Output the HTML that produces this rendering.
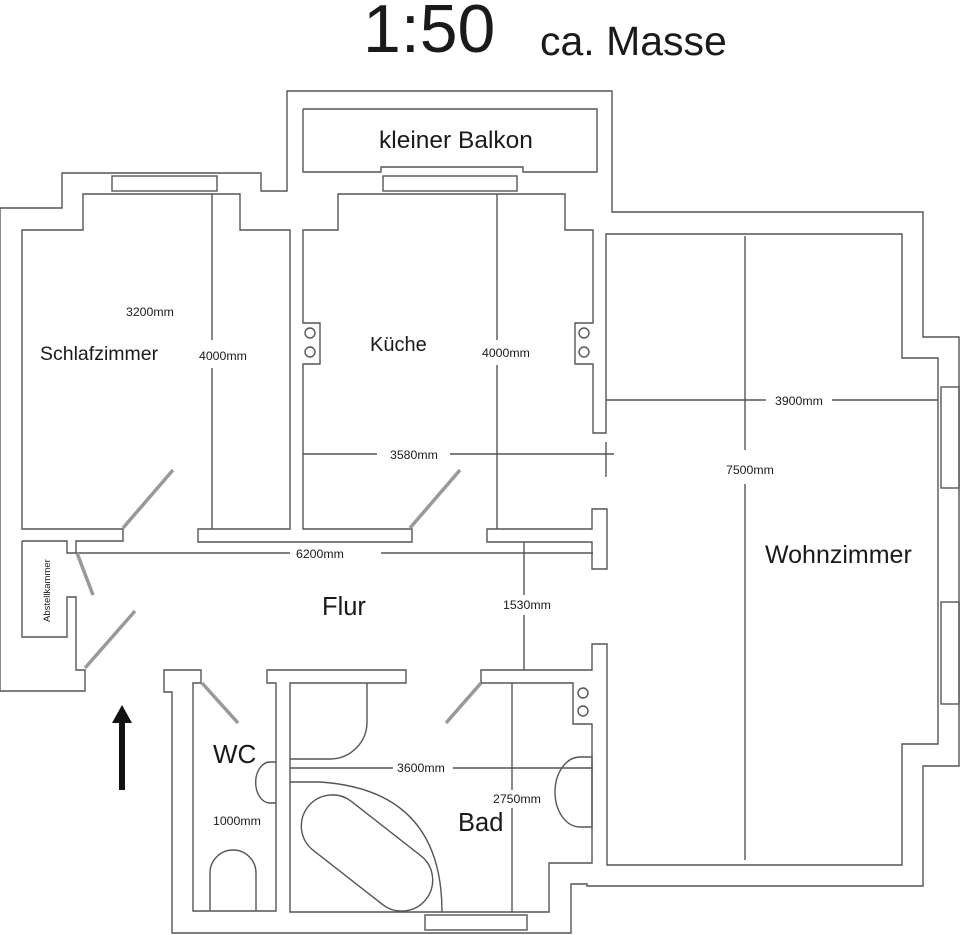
<!DOCTYPE html>
<html><head><meta charset="utf-8"><style>
html,body{margin:0;padding:0;background:#fff;}
svg{display:block;}
text{font-family:"Liberation Sans",sans-serif;fill:#1a1a1a;}
.d{font-size:12.3px;}
</style></head><body>
<svg width="960" height="935" viewBox="0 0 960 935" xmlns="http://www.w3.org/2000/svg">
<g fill="none" stroke="#555" stroke-width="1.4">
<polyline points="22,541 67,541 67,553 76,553 76,541 123,541 123,529 22,529 22,230 83,230 83,194 240,194 240,230 290,230 290,529 198,529 198,542 412,542 412,529 303,529 303,364 320,364 320,323 303,323 303,230 338,230 338,194 565,194 565,230 593,230 593,323 575,323 575,364 593,364 593,433 606,433 606,234 902,234 902,358 938,358 938,744 902,744 902,865 607,865 607,644 592,644 592,670 481,670 481,683 573,683 573,724 592,724 592,863 549,863 549,912 290,912 290,683 406,683 406,670 267,670 267,683 276,683 276,911 193,911 193,683 201,683 201,670 164,670 164,692 172,692 172,933 571,933 571,884 587,884 587,886 923,886 923,766 959,766 959,337 923,337 923,212 612,212 612,91 287,91 287,191 261,191 261,173 62,173 62,208 0,208 0,691 85,691 85,670 76,670 76,597 67,597 67,637 22,637 22,541"/>
<polygon points="487,529 592,529 592,509 607,509 607,569 592,569 592,542 487,542"/>
<polyline points="303,109 597,109 597,172 523,172 523,167 381,167 381,172 303,172 303,109"/>
<rect x="383" y="176" width="134" height="15"/>
<rect x="112" y="176" width="105" height="15"/>
<rect x="941" y="387" width="18" height="101"/>
<rect x="941" y="602" width="18" height="102"/>
<rect x="425" y="915" width="102" height="15"/>
<circle cx="310" cy="333" r="5"/><circle cx="310" cy="352" r="5"/>
<circle cx="584" cy="333" r="5"/><circle cx="584" cy="352" r="5"/>
<circle cx="583" cy="693" r="5"/><circle cx="583" cy="711" r="5"/>
<path d="M290,759 L330,759 A37,37 0 0 0 367,722 L367,683"/>
<path d="M290,782 L320,782 Q442,790 442,912"/>
<rect x="292" y="822" width="150" height="62" rx="31" transform="rotate(38 367 853)"/>
<path d="M210,911 L210,873 A23,23 0 0 1 256,873 L256,911"/>
<path d="M276,762 L270,762 A14,20 0 0 0 270,803 L276,803"/>
<path d="M592,757 L580,757 A25,35 0 0 0 580,827 L592,827 Z"/>
<line x1="212" y1="194" x2="212" y2="340"/><line x1="212" y1="368" x2="212" y2="529"/>
<line x1="497" y1="194" x2="497" y2="340"/><line x1="497" y1="365" x2="497" y2="529"/>
<line x1="303" y1="454" x2="377" y2="454"/><line x1="450" y1="454" x2="614" y2="454"/>
<line x1="606" y1="442" x2="606" y2="477"/>
<line x1="76" y1="553" x2="290" y2="553"/><line x1="381" y1="553" x2="593" y2="553"/>
<line x1="524" y1="542" x2="524" y2="595"/><line x1="524" y1="615" x2="524" y2="670"/>
<line x1="745" y1="236" x2="745" y2="450"/><line x1="745" y1="484" x2="745" y2="860"/>
<line x1="606" y1="400" x2="766" y2="400"/><line x1="832" y1="400" x2="938" y2="400"/>
<line x1="290" y1="768" x2="393" y2="768"/><line x1="453" y1="768" x2="593" y2="768"/>
<line x1="512" y1="683" x2="512" y2="790"/><line x1="512" y1="808" x2="512" y2="912"/>
</g>
<g stroke="#999" stroke-width="3.5">
<line x1="123" y1="528" x2="173" y2="470"/>
<line x1="77" y1="553" x2="93" y2="595"/>
<line x1="85" y1="668" x2="135" y2="611"/>
<line x1="410" y1="528" x2="460" y2="470"/>
<line x1="202" y1="683" x2="238" y2="723"/>
<line x1="481" y1="683" x2="446" y2="723"/>
</g>
<polygon points="122,705 112,723 119,723 119,790 125,790 125,723 132,723" fill="#111"/>
<text x="363" y="52" font-size="68">1:50</text>
<text x="540" y="55" font-size="41">ca. Masse</text>
<text x="379" y="148" font-size="24.5">kleiner Balkon</text>
<text x="40" y="360" font-size="19.5">Schlafzimmer</text>
<text x="370" y="351" font-size="20">Küche</text>
<text x="322" y="615" font-size="25.5">Flur</text>
<text x="213" y="763" font-size="26">WC</text>
<text x="458" y="831" font-size="25.5">Bad</text>
<text x="765" y="563" font-size="25">Wohnzimmer</text>
<text x="50" y="622" font-size="9.5" transform="rotate(-90 50 622)">Abstellkammer</text>
<text class="d" x="126" y="316">3200mm</text>
<text class="d" x="199" y="360">4000mm</text>
<text class="d" x="482" y="357">4000mm</text>
<text class="d" x="390" y="459">3580mm</text>
<text class="d" x="296" y="558">6200mm</text>
<text class="d" x="503" y="609">1530mm</text>
<text class="d" x="775" y="405">3900mm</text>
<text class="d" x="726" y="474">7500mm</text>
<text class="d" x="397" y="772">3600mm</text>
<text class="d" x="493" y="803">2750mm</text>
<text class="d" x="213" y="825">1000mm</text>
</svg>
</body></html>
